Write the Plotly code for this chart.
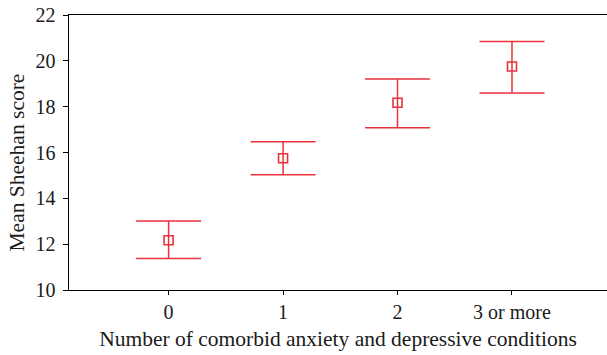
import plotly.graph_objects as go

categories = ["0", "1", "2", "3 or more"]
means = [12.17, 15.75, 18.17, 19.75]
upper = [13.01, 16.47, 19.21, 20.84]
lower = [11.38, 15.03, 17.08, 18.60]
y_ticks = [10, 12, 14, 16, 18, 20, 22]

red = "rgb(234,50,60)"
xpos = list(range(len(categories)))

fig = go.Figure(go.Scatter(
    x=xpos, y=means, mode="markers",
    marker=dict(symbol="square-open", size=9, color=red, line=dict(width=1.6, color=red)),
    error_y=dict(type="data", symmetric=False,
                 array=[u - m for u, m in zip(upper, means)],
                 arrayminus=[m - l for m, l in zip(means, lower)],
                 color=red, thickness=1.5, width=32.5),
    showlegend=False,
    hoverinfo="skip",
))

fam = "Liberation Serif, Times New Roman, serif"
tickfont = dict(family=fam, size=20, color="#1a1a1a")
titlefont = dict(family=fam, size=21.5, color="#1a1a1a")
fig.update_layout(
    width=607, height=355,
    margin=dict(l=69, r=0, t=15, b=65),
    plot_bgcolor="white", paper_bgcolor="white",
    font=dict(family=fam, size=18, color="#1a1a1a"),
    xaxis=dict(range=[-0.87, 3.83], tickvals=xpos, ticktext=categories, automargin=False,
               showgrid=False, zeroline=False, showline=True, linecolor="black", linewidth=1.4,
               mirror=True, ticks="outside", ticklen=4, tickcolor="black", tickfont=tickfont,
               title=dict(text="Number of comorbid anxiety and depressive conditions", standoff=8,
                          font=titlefont)),
    yaxis=dict(range=[10, 22], tickvals=y_ticks, automargin=False,
               showgrid=False, zeroline=False, showline=True, linecolor="black", linewidth=1.4,
               ticks="outside", ticklen=5, tickcolor="black", tickfont=tickfont,
               ticklabelstandoff=3),
)
fig.add_annotation(text="Mean Sheehan score", textangle=-90, showarrow=False,
                   xref="paper", yref="paper", x=0, y=0.5, xanchor="center", yanchor="middle",
                   xshift=-53, yshift=-10, font=titlefont)
fig.write_html("out.html", config={"displayModeBar": False, "staticPlot": True})

with open("out.html", "r", encoding="utf-8") as f:
    html = f.read()
html = html.replace("<head>", "<head><style>html,body{margin:0;padding:0;overflow:hidden;}</style>", 1)
with open("out.html", "w", encoding="utf-8") as f:
    f.write(html)
